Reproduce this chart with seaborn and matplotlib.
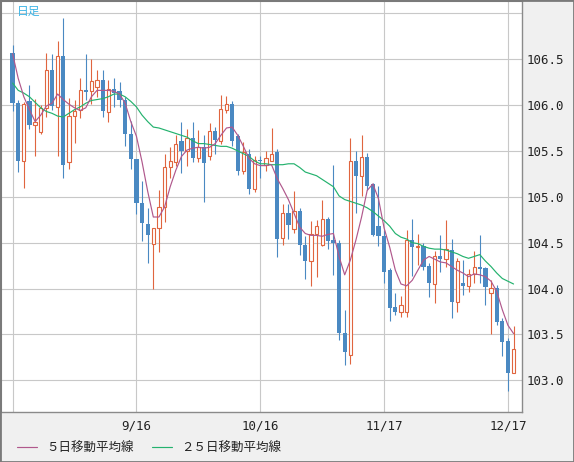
import numpy as np
import pandas as pd
import matplotlib
matplotlib.use('Agg')
import matplotlib.pyplot as plt
from matplotlib.font_manager import FontProperties
import seaborn as sns

sns.set_theme(style = 'white')
plt.rcParams['font.family'] = ['DejaVu Sans Mono', 'Noto Sans CJK JP']

# daily candles, 8/17 .. 12/18
opens = [106.57, 106.02, 105.39, 106.04, 105.78, 105.71, 105.97, 106.38, 105.98, 106.53,
         105.38, 105.88, 105.95, 106.16, 106.15, 106.20, 106.27, 105.92, 106.17, 106.15,
         106.06, 105.69, 105.41, 104.93, 104.70, 104.49, 104.66, 104.89, 105.32, 105.38,
         105.61, 105.50, 105.64, 105.42, 105.54, 105.45, 105.72, 105.61, 105.95, 106.01,
         105.66, 105.28, 105.47, 105.09, 105.40, 105.35, 105.39, 105.49, 104.55, 104.82,
         104.65, 104.85, 104.48, 104.30, 104.59, 104.47, 104.76, 104.53, 104.50, 103.52,
         103.28, 105.39, 105.23, 105.43, 105.14, 104.68, 104.57, 104.20, 103.80, 103.74,
         103.74, 104.53, 104.45, 104.46, 104.25, 104.05, 104.36, 104.32, 104.42, 103.85,
         104.06, 104.03, 104.16, 104.24, 104.22, 103.95, 104.01, 103.65, 103.43, 103.08]
highs = [106.65, 106.06, 106.03, 106.22, 106.07, 106.00, 106.57, 106.56, 106.70, 106.95,
         106.08, 106.06, 106.30, 106.56, 106.50, 106.38, 106.38, 106.27, 106.30, 106.25,
         106.09, 105.83, 105.41, 105.17, 104.88, 104.66, 105.07, 105.47, 105.54, 105.67,
         105.82, 105.74, 105.82, 105.73, 105.67, 105.80, 105.76, 106.11, 106.10, 106.04,
         105.69, 105.60, 105.52, 105.45, 105.45, 105.50, 105.75, 105.52, 104.92, 104.92,
         105.06, 104.88, 104.57, 104.74, 104.75, 104.96, 104.78, 105.35, 104.53, 103.77,
         105.64, 105.50, 105.67, 105.48, 105.15, 105.12, 104.64, 104.22, 103.95, 103.92,
         104.64, 104.76, 104.60, 104.50, 104.28, 104.41, 104.58, 104.75, 104.54, 104.33,
         104.31, 104.21, 104.41, 104.58, 104.24, 104.09, 104.04, 103.68, 103.46, 103.59]
lows = [105.94, 105.27, 105.10, 105.74, 105.44, 105.69, 105.87, 105.95, 105.44, 105.20,
        105.30, 105.59, 105.86, 106.06, 106.01, 106.09, 105.87, 105.81, 105.98, 105.98,
        105.55, 105.30, 104.81, 104.52, 104.28, 104.00, 104.40, 104.73, 105.21, 105.34,
        105.26, 105.34, 105.38, 105.38, 104.94, 105.40, 105.47, 105.58, 105.91, 105.55,
        105.24, 105.25, 105.03, 105.05, 105.20, 105.28, 105.39, 104.34, 104.48, 104.54,
        104.61, 104.37, 104.10, 104.03, 104.13, 104.46, 104.43, 104.15, 103.44, 103.17,
        103.18, 104.82, 105.01, 105.07, 104.57, 104.46, 104.06, 103.65, 103.71, 103.69,
        103.69, 104.14, 104.26, 104.20, 103.91, 103.84, 104.18, 104.24, 103.68, 103.74,
        103.93, 103.96, 104.06, 104.06, 103.82, 103.51, 103.60, 103.26, 102.88, 103.08]
closes = [106.02, 105.39, 106.01, 105.78, 105.81, 105.97, 106.38, 105.99, 106.53, 105.35,
          105.88, 105.94, 106.16, 106.14, 106.26, 106.27, 105.93, 106.17, 106.13, 106.06,
          105.69, 105.41, 104.93, 104.72, 104.58, 104.66, 104.89, 105.32, 105.39, 105.58,
          105.50, 105.64, 105.42, 105.54, 105.37, 105.72, 105.62, 105.96, 106.01, 105.61,
          105.28, 105.49, 105.09, 105.40, 105.39, 105.42, 105.47, 104.54, 104.82, 104.69,
          104.85, 104.48, 104.30, 104.59, 104.68, 104.76, 104.52, 104.50, 103.52, 103.31,
          105.39, 105.23, 105.43, 105.12, 104.58, 104.57, 104.18, 103.79, 103.74, 103.82,
          104.53, 104.45, 104.46, 104.23, 104.06, 104.36, 104.32, 104.43, 103.85, 104.30,
          104.03, 104.16, 104.24, 104.21, 104.02, 104.01, 103.64, 103.42, 103.08, 103.34]

ma5 = [106.56, 106.29, 106.09, 105.95, 105.82, 105.89, 105.99, 106.02, 106.12, 106.06,
       106.01, 105.97, 105.94, 105.97, 106.09, 106.16, 106.16, 106.16, 106.15, 106.12,
       106.02, 105.82, 105.66, 105.38, 105.06, 104.78, 104.78, 104.89, 105.11, 105.29,
       105.44, 105.51, 105.53, 105.54, 105.53, 105.54, 105.58, 105.67, 105.75, 105.76,
       105.67, 105.55, 105.42, 105.36, 105.34, 105.34, 105.35, 105.20, 105.09, 104.97,
       104.82, 104.67, 104.60, 104.58, 104.58, 104.57, 104.59, 104.60, 104.35, 104.15,
       104.31, 104.53, 104.78, 105.07, 105.14, 104.98, 104.66, 104.45, 104.20, 104.05,
       104.03, 104.09, 104.20, 104.31, 104.35, 104.32, 104.29, 104.28, 104.24, 104.20,
       104.17, 104.13, 104.16, 104.15, 104.13, 104.08, 103.97, 103.77, 103.60, 103.51]
ma25 = [106.24, 106.16, 106.13, 106.09, 106.03, 105.97, 105.93, 105.91, 105.88, 105.87,
        105.91, 105.95, 105.98, 106.02, 106.05, 106.06, 106.07, 106.09, 106.12, 106.12,
        106.09, 106.04, 105.98, 105.89, 105.82, 105.76, 105.75, 105.73, 105.71, 105.69,
        105.67, 105.65, 105.61, 105.58, 105.58, 105.57, 105.56, 105.55, 105.55, 105.53,
        105.50, 105.47, 105.44, 105.39, 105.36, 105.36, 105.35, 105.35, 105.35, 105.36,
        105.36, 105.32, 105.27, 105.25, 105.23, 105.19, 105.15, 105.11, 105.01, 104.97,
        104.95, 104.93, 104.91, 104.88, 104.84, 104.79, 104.74, 104.68, 104.60, 104.56,
        104.54, 104.50, 104.49, 104.46, 104.44, 104.43, 104.43, 104.42, 104.40, 104.38,
        104.35, 104.33, 104.35, 104.37, 104.30, 104.24, 104.17, 104.11, 104.08, 104.05]

date_ticks = [0, 22, 44, 66, 88]
date_labels = ['', '9/16', '10/16', '11/17', '12/17']
price_ticks = [103.0, 103.5, 104.0, 104.5, 105.0, 105.5, 106.0, 106.5, 107.0]

df = pd.DataFrame({'open': opens, 'high': highs, 'low': lows, 'close': closes,
                   'ma5': ma5, 'ma25': ma25})
df['idx'] = np.arange(len(df))
up = (df['close'] >= df['open']).values
body_low = np.minimum(df['open'], df['close'])
body_h = np.maximum(np.abs(df['close'] - df['open']), 0.012)

red = '#e0653f'
blue = '#4a89c2'

fig = plt.figure(figsize = (5.74, 4.62), dpi = 100, facecolor = '#f0f0f0')
ax = fig.add_axes([1 / 574, 50 / 462, 521 / 574, 411 / 462])
ax.set_facecolor('white')

ax.vlines(df['idx'], df['low'], df['high'], colors = np.where(up, red, blue), linewidth = 0.8, zorder = 3)
ax.bar(df['idx'][~up], body_h[~up], bottom = body_low[~up], width = 0.75, color = blue, linewidth = 0, zorder = 4)
ax.bar(df['idx'][up], body_h[up], bottom = body_low[up], width = 0.58, facecolor = 'white',
       edgecolor = red, linewidth = 0.8, zorder = 4)

sns.lineplot(data = df, x = 'idx', y = 'ma25', ax = ax, color = '#24b26e', linewidth = 0.85, zorder = 5)
sns.lineplot(data = df, x = 'idx', y = 'ma5', ax = ax, color = '#b0588c', linewidth = 0.85, zorder = 6)

ax.set_xlim(-2.06, 90.5)
ax.set_ylim(102.655, 107.134)
ax.set_xticks(date_ticks)
ax.set_xticklabels(date_labels)
ax.set_yticks(price_ticks)
ax.set_yticklabels(['%.1f' % p if p < 107 else '' for p in price_ticks])
ax.yaxis.tick_right()
ax.set_xlabel('')
ax.set_ylabel('')
ax.tick_params(axis = 'y', length = 0, pad = 3.4, labelsize = 9, labelcolor = '#222222')
ax.tick_params(axis = 'x', length = 0, pad = 5.5, labelsize = 9, labelcolor = '#222222')
ax.grid(True, color = '#c8c8c8', linewidth = 0.8)
ax.set_axisbelow(True)
for side in ['right', 'bottom']:
    ax.spines[side].set_color('#8a8a8a')
    ax.spines[side].set_linewidth(1)
for side in ['left', 'top']:
    ax.spines[side].set_color('#7a7a7a')
    ax.spines[side].set_linewidth(1.5)

ax.text(16 / 521, 1 - 10 / 411, '日足', transform = ax.transAxes, color = '#3cb4e6',
        fontsize = 8.5, va = 'center', ha = 'left', family = ['Noto Sans CJK JP'])

lines = ax.get_lines()
handles = [lines[1], lines[0]]
fig.legend(handles, ['５日移動平均線', '２５日移動平均線'], loc = 'center left',
           bbox_to_anchor = (16.5 / 574, 14 / 462), ncol = 2, frameon = False,
           borderpad = 0, borderaxespad = 0, handlelength = 1.6, handletextpad = 0.75,
           columnspacing = 1.5, prop = FontProperties(family = 'Noto Sans CJK JP', size = 9),
           labelcolor = '#222222')

fig.patches.append(plt.Rectangle((0, 0), 1, 1, transform = fig.transFigure, fill = False,
                                 edgecolor = '#7a7a7a', linewidth = 2))

fig.savefig('out.png', dpi = 100, facecolor = fig.get_facecolor())
